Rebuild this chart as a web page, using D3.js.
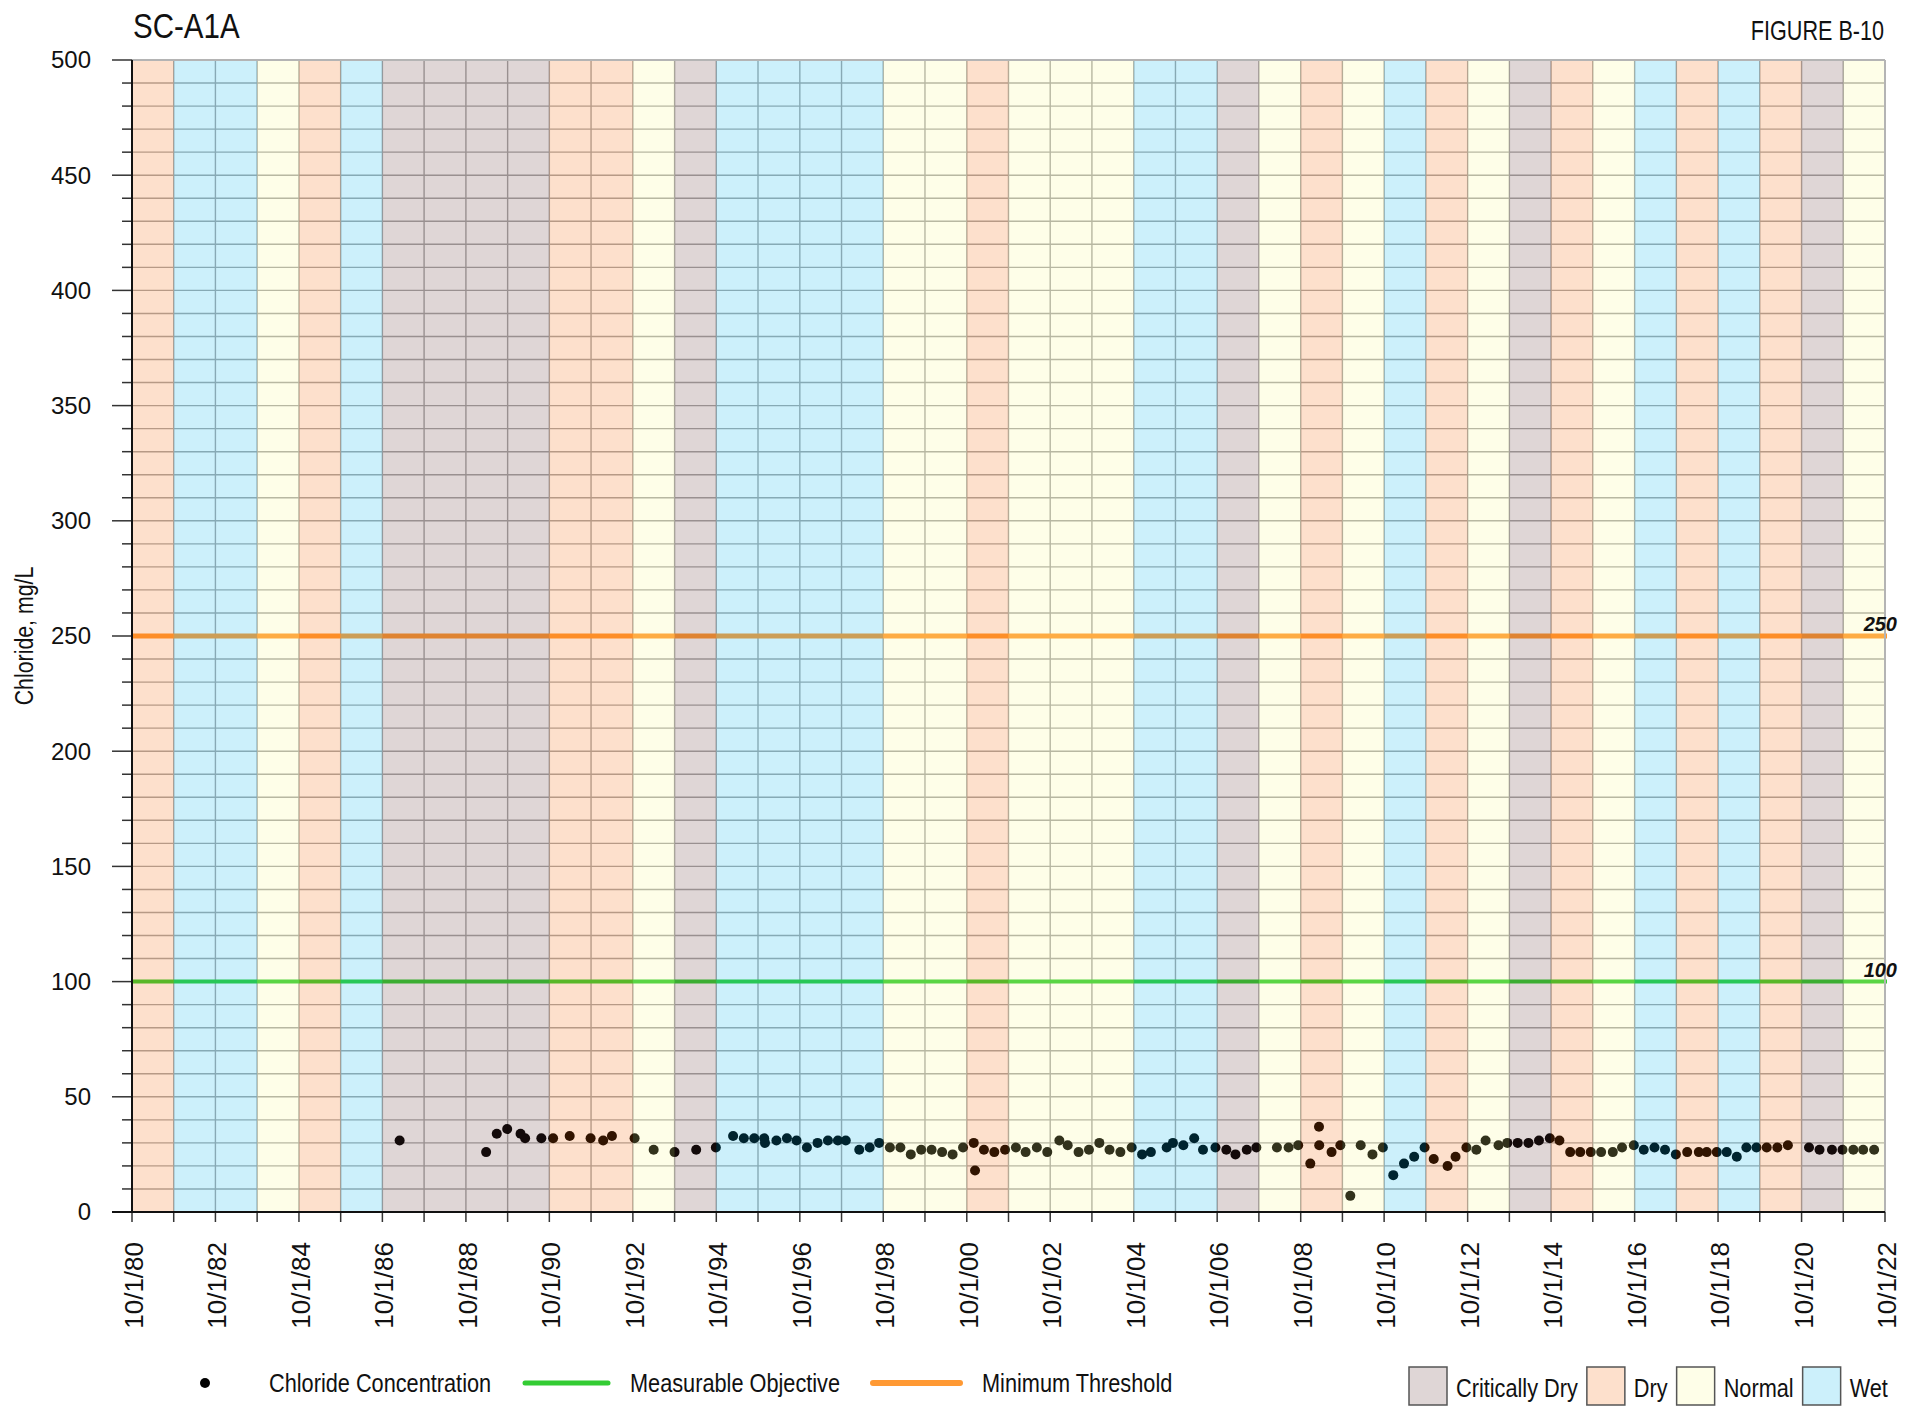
<!DOCTYPE html>
<html>
<head>
<meta charset="utf-8">
<script src="https://cdn.jsdelivr.net/npm/d3@7"></script>
<style>
  body { margin: 0; background: #fff; }
  svg { display: block; }
  text { font-family: "Liberation Sans", Arial, sans-serif; fill: #111; }
</style>
</head>
<body>
<svg id="chart" width="1919" height="1406"></svg>
<script>
// ---------------- DATA ----------------
const sampleDates = [
  "1987-03-01","1989-03-27","1989-06-28","1989-09-27","1990-01-22","1990-03-03","1990-07-23","1990-11-03",
  "1991-03-28","1991-09-27","1992-01-15","1992-04-01","1992-10-16","1993-04-01","1993-10-01","1994-04-08",
  "1994-09-27","1995-02-25","1995-05-30","1995-08-29","1995-11-24","1995-12-01","1996-03-10","1996-06-10",
  "1996-09-02","1996-12-02","1997-03-05","1997-06-04","1997-08-30","1997-11-07","1998-03-05","1998-06-04",
  "1998-08-26","1998-11-28","1999-02-28","1999-05-30","1999-08-29","1999-11-28","2000-02-28","2000-05-30",
  "2000-08-29","2000-12-01","2000-12-12","2001-02-28","2001-05-30","2001-09-01","2001-12-05","2002-02-28",
  "2002-06-06","2002-09-05","2002-12-20","2003-03-03","2003-06-06","2003-09-05","2003-12-05","2004-03-03",
  "2004-06-06","2004-09-13","2004-12-13","2005-02-28","2005-07-16","2005-09-09","2005-12-09","2006-03-14",
  "2006-05-30","2006-09-16","2006-12-20","2007-03-10","2007-06-17","2007-09-09","2008-03-07","2008-06-17",
  "2008-09-09","2008-12-24","2009-03-10","2009-03-12","2009-06-28","2009-09-13","2009-12-09","2010-03-10",
  "2010-06-21","2010-09-20","2010-12-20","2011-03-24","2011-06-21","2011-09-20","2011-12-09","2012-04-08",
  "2012-06-17","2012-09-20","2012-12-16","2013-03-07","2013-06-28","2013-09-13","2013-12-13","2014-03-17",
  "2014-06-17","2014-09-20","2014-12-13","2015-03-17","2015-06-13","2015-09-13","2015-12-13","2016-03-24",
  "2016-06-13","2016-09-24","2016-12-20","2017-03-24","2017-06-24","2017-09-27","2018-01-04","2018-04-16",
  "2018-06-24","2018-09-20","2018-12-16","2019-03-14","2019-06-06","2019-09-02","2019-12-01","2020-03-03",
  "2020-06-03","2020-12-05","2021-03-07","2021-06-24","2021-09-24","2021-12-28","2022-03-24","2022-06-28"
];
const chlorideValues = [
  31,26,34,36,34,32,32,32,
  33,32,31,33,32,27,26,27,
  28,33,32,32,32,30,31,32,
  31,28,30,31,31,31,27,28,
  30,28,28,25,27,27,26,25,
  28,30,18,27,26,27,28,26,
  28,26,31,29,26,27,30,27,
  26,28,25,26,28,30,29,32,
  27,28,27,25,27,28,28,28,
  29,21,37,29,26,29,7,29,
  25,28,16,21,24,28,23,20,
  24,28,27,31,29,30,30,30,
  31,32,31,26,26,26,26,26,
  28,29,27,28,27,25,26,26,
  26,26,26,24,28,28,28,28,
  29,28,27,27,27,27,27,27
];

// Water year (ending Sept 30 of that year) and its classification
const waterYears = [1981,1982,1983,1984,1985,1986,1987,1988,1989,1990,1991,1992,1993,1994,1995,1996,1997,1998,1999,2000,2001,
                    2002,2003,2004,2005,2006,2007,2008,2009,2010,2011,2012,2013,2014,2015,2016,2017,2018,2019,2020,2021,2022];
const yearTypes = ["Dry","Wet","Wet","Normal","Dry","Wet","Critically Dry","Critically Dry","Critically Dry","Critically Dry","Dry",
                   "Dry","Normal","Critically Dry","Wet","Wet","Wet","Wet","Normal","Normal","Dry",
                   "Normal","Normal","Normal","Wet","Wet","Critically Dry","Normal","Dry","Normal","Wet",
                   "Dry","Normal","Critically Dry","Dry","Normal","Wet","Dry","Wet","Dry","Critically Dry","Normal"];

const xTickLabels = ["10/1/80","10/1/82","10/1/84","10/1/86","10/1/88","10/1/90","10/1/92","10/1/94","10/1/96","10/1/98","10/1/00",
                     "10/1/02","10/1/04","10/1/06","10/1/08","10/1/10","10/1/12","10/1/14","10/1/16","10/1/18","10/1/20","10/1/22"];
const yTickValues = [0,50,100,150,200,250,300,350,400,450,500];

const thresholdNames = ["Measurable Objective","Minimum Threshold"];
const thresholdValues = [100, 250];

const typeNames = ["Critically Dry","Dry","Normal","Wet"];

// ---------------- STYLE ----------------
const W = 1919, H = 1406;
const plot = { left: 132, right: 1885, top: 60, bottom: 1212 };
const typeColors = {
  "Critically Dry": "rgba(95,50,50,0.2)",
  "Dry": "rgba(245,100,0,0.2)",
  "Normal": "rgba(250,250,140,0.2)",
  "Wet": "rgba(0,180,235,0.2)"
};
const thresholdColors = ["#33cc33", "#ff9933"];
const thresholdWidths = [4, 5];
const NARROW = 0.82;

const svg = d3.select("#chart");
const parse = d3.timeParse("%Y-%m-%d");
const points = sampleDates.map((d, i) => ({ date: parse(d), value: chlorideValues[i] }));

const x = d3.scaleTime()
  .domain([new Date(1980, 9, 1), new Date(2022, 9, 1)])
  .range([plot.left, plot.right]);
const y = d3.scaleLinear().domain([0, 500]).range([plot.bottom, plot.top]);

const yearStarts = d3.range(1980, 2023).map(yr => new Date(yr, 9, 1));

// ---------- grid ----------
const grid = svg.append("g");
grid.selectAll("line.h").data(d3.range(10, 500, 10)).join("line")
  .attr("x1", plot.left).attr("x2", plot.right)
  .attr("y1", d => y(d)).attr("y2", d => y(d))
  .attr("stroke", "#a8a8a8").attr("stroke-width", 1.4);
grid.selectAll("line.v").data(yearStarts.slice(1, -1)).join("line")
  .attr("x1", d => x(d)).attr("x2", d => x(d))
  .attr("y1", plot.top).attr("y2", plot.bottom)
  .attr("stroke", "#a8a8a8").attr("stroke-width", 1.4);

// ---------- threshold lines ----------
svg.append("g").selectAll("line").data(thresholdValues).join("line")
  .attr("x1", plot.left).attr("x2", plot.right + 2)
  .attr("y1", d => y(d)).attr("y2", d => y(d))
  .attr("stroke", (d, i) => thresholdColors[i])
  .attr("stroke-width", (d, i) => thresholdWidths[i]);

// ---------- points ----------
svg.append("g").selectAll("circle").data(points).join("circle")
  .attr("cx", d => x(d.date)).attr("cy", d => y(d.value))
  .attr("r", 5).attr("fill", "#000");

// ---------- water-year bands (translucent, on top) ----------
svg.append("g").selectAll("rect").data(waterYears).join("rect")
  .attr("x", d => x(new Date(d - 1, 9, 1)))
  .attr("width", d => x(new Date(d, 9, 1)) - x(new Date(d - 1, 9, 1)))
  .attr("y", plot.top).attr("height", plot.bottom - plot.top)
  .attr("fill", (d, i) => typeColors[yearTypes[i]]);

// ---------- border ----------
svg.append("line").attr("x1", plot.left).attr("x2", plot.right).attr("y1", plot.top).attr("y2", plot.top)
  .attr("stroke", "#b4b4b4").attr("stroke-width", 2);
svg.append("line").attr("x1", plot.right).attr("x2", plot.right).attr("y1", plot.top).attr("y2", plot.bottom)
  .attr("stroke", "#b4b4b4").attr("stroke-width", 2);

// ---------- y axis ----------
const yAxis = svg.append("g");
yAxis.selectAll("line.minor").data(d3.range(0, 501, 10)).join("line")
  .attr("x1", d => d % 50 === 0 ? plot.left - 20 : plot.left - 10).attr("x2", plot.left)
  .attr("y1", d => y(d)).attr("y2", d => y(d))
  .attr("stroke", "#333").attr("stroke-width", 1.5);
yAxis.selectAll("text").data(yTickValues).join("text")
  .attr("x", 91).attr("y", d => y(d)).attr("dy", "0.35em")
  .attr("text-anchor", "end").attr("font-size", 24).text(d => d);
yAxis.append("line").attr("x1", plot.left).attr("x2", plot.left).attr("y1", plot.top).attr("y2", plot.bottom)
  .attr("stroke", "#111").attr("stroke-width", 2);

// ---------- x axis ----------
const xAxis = svg.append("g");
xAxis.selectAll("line").data(yearStarts).join("line")
  .attr("x1", d => x(d)).attr("x2", d => x(d))
  .attr("y1", plot.bottom).attr("y2", plot.bottom + 10)
  .attr("stroke", "#333").attr("stroke-width", 1.5);
xAxis.append("line").attr("x1", plot.left - 20).attr("x2", plot.right).attr("y1", plot.bottom).attr("y2", plot.bottom)
  .attr("stroke", "#111").attr("stroke-width", 2);
const labelDates = yearStarts.filter((d, i) => i % 2 === 0);
xAxis.selectAll("text").data(labelDates).join("text")
  .attr("transform", d => `translate(${x(d)},${plot.bottom + 30}) rotate(-90)`)
  .attr("text-anchor", "end").attr("dy", "0.42em").attr("font-size", 26)
  .text((d, i) => xTickLabels[i]);

// ---------- narrow text helper ----------
function narrowText(parent, tx, ty, str, size, anchor, rot, sx) {
  const g = parent.append("g").attr("transform", `translate(${tx},${ty})` + (rot ? ` rotate(${rot})` : "") + ` scale(${sx || NARROW},1)`);
  return g.append("text").attr("text-anchor", anchor || "start").attr("font-size", size).text(str);
}

// titles
narrowText(svg, 133, 38, "SC-A1A", 36, "start");
narrowText(svg, 1884, 40, "FIGURE B-10", 27, "end", 0, 0.8);
narrowText(svg, 33, 636, "Chloride, mg/L", 26, "middle", -90);

// threshold value labels
svg.append("g").selectAll("text").data(thresholdValues).join("text")
  .attr("x", 1897).attr("y", d => y(d) - 5)
  .attr("text-anchor", "end").attr("font-size", 20)
  .attr("font-weight", "bold").attr("font-style", "italic").attr("fill", "#333")
  .text(d => d);

// ---------- legend (series) ----------
const legY = 1383;
const leg = svg.append("g");
leg.append("circle").attr("cx", 205).attr("cy", legY).attr("r", 5).attr("fill", "#000");
narrowText(leg, 269, legY + 9, "Chloride Concentration", 26.5, "start");
leg.append("line").attr("x1", 525).attr("x2", 608).attr("y1", legY).attr("y2", legY)
  .attr("stroke", thresholdColors[0]).attr("stroke-width", 5).attr("stroke-linecap", "round");
narrowText(leg, 630, legY + 9, thresholdNames[0], 26.5, "start");
leg.append("line").attr("x1", 873).attr("x2", 960).attr("y1", legY).attr("y2", legY)
  .attr("stroke", thresholdColors[1]).attr("stroke-width", 6).attr("stroke-linecap", "round");
narrowText(leg, 982, legY + 9, thresholdNames[1], 26.5, "start");

// ---------- legend (year types) ----------
const tleg = svg.append("g");
let cx = 1409;
typeNames.forEach(name => {
  tleg.append("rect").attr("x", cx).attr("y", 1367).attr("width", 38).attr("height", 38)
    .attr("fill", typeColors[name]).attr("stroke", "#555").attr("stroke-width", 1.5);
  const t = narrowText(tleg, cx + 47, 1397, name, 26.5, "start");
  cx += 47 + t.node().getComputedTextLength() * NARROW + 9;
});
</script>
</body>
</html>
